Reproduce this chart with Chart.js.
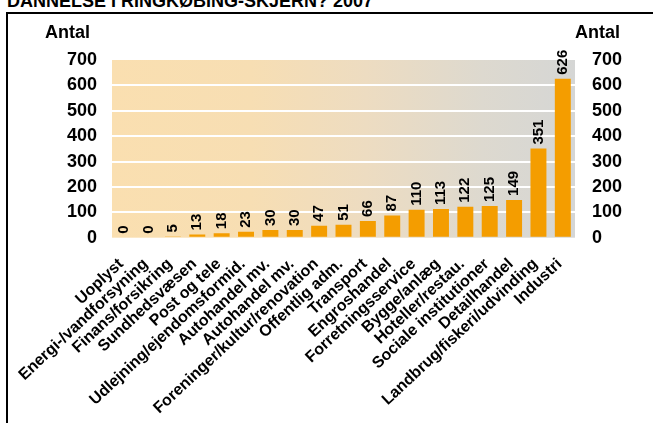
<!DOCTYPE html>
<html><head><meta charset="utf-8">
<script src="https://cdn.jsdelivr.net/npm/chart.js@4/dist/chart.umd.min.js"></script>
<style>
html,body{margin:0;padding:0;background:#fff;}
#wrap{position:relative;width:653px;height:423px;overflow:hidden;font-family:"Liberation Sans",Arial,sans-serif;}
#frame{position:absolute;left:6px;top:12px;width:800px;height:600px;border:2px solid #000;box-sizing:border-box;}
#title{position:absolute;left:7px;top:-8px;font-weight:bold;font-size:18px;line-height:18px;white-space:nowrap;color:#000;}
.ylab{position:absolute;top:22px;font-weight:bold;font-size:18px;line-height:20px;color:#000;}
canvas{position:absolute;left:0;top:0;}
</style></head><body>
<div id="wrap">
<div id="frame"></div>
<div id="title">DANNELSE I RINGKØBING-SKJERN? 2007</div>
<canvas id="c" width="653" height="423"></canvas>
<div class="ylab" style="left:45px">Antal</div>
<div class="ylab" style="left:575px">Antal</div>
</div>
<script>
const categories = ["Uoplyst","Energi-/vandforsyning","Finans/forsikring","Sundhedsvæsen","Post og tele","Udlejning/ejendomsformid.","Autohandel mv.","Autohandel mv.","Foreninger/kultur/renovation","Offentlig adm.","Transport","Engroshandel","Forretningsservice","Bygge/anlæg","Hoteller/restau.","Sociale institutioner","Detailhandel","Landbrug/fiskeri/udvinding","Industri"];
const values = [0,0,5,13,18,23,30,30,47,51,66,87,110,113,122,125,149,351,626];
const yTicks = [0,100,200,300,400,500,600,700];

const bgPlugin = {
  id:'bg',
  beforeDraw(chart){
    const {ctx, chartArea:a} = chart;
    const g = ctx.createLinearGradient(a.left,0,a.right,0);
    g.addColorStop(0,'#FADFB0');
    g.addColorStop(0.3,'#F7DEB3');
    g.addColorStop(0.55,'#EDDCC1');
    g.addColorStop(0.8,'#DDD9CF');
    g.addColorStop(1,'#D5D6D5');
    ctx.save();
    ctx.fillStyle = g;
    ctx.fillRect(a.left,a.top,a.right-a.left,a.bottom-a.top);
    ctx.restore();
  }
};
const valPlugin = {
  id:'vals',
  afterDatasetsDraw(chart){
    const {ctx} = chart;
    const meta = chart.getDatasetMeta(0);
    ctx.save();
    ctx.font = 'bold 15px "Liberation Sans", Arial, sans-serif';
    ctx.fillStyle = '#000';
    ctx.textAlign = 'left';
    ctx.textBaseline = 'middle';
    meta.data.forEach((el,i)=>{
      ctx.save();
      ctx.translate(el.x, el.y - 4);
      ctx.rotate(-Math.PI/2);
      ctx.fillText(String(values[i]),0,0);
      ctx.restore();
    });
    ctx.restore();
  }
};

new Chart(document.getElementById('c'),{
  type:'bar',
  data:{labels:categories,datasets:[{data:values,backgroundColor:'#F49D00',borderWidth:0,categoryPercentage:1,barPercentage:0.655,yAxisID:'y'}]},
  options:{
    responsive:false,animation:false,
    layout:{padding:{top:60,left:0,right:0,bottom:0}},
    plugins:{legend:{display:false},tooltip:{enabled:false},title:{display:false}},
    scales:{
      x:{
        grid:{display:false,drawTicks:false},border:{display:false},
        ticks:{autoSkip:false,minRotation:43,maxRotation:43,padding:17,labelOffset:-3,color:'#000',
          font:{family:'"Liberation Sans", Arial, sans-serif',size:16,weight:'bold'}},
        afterFit(s){s.height=423-237.7;}
      },
      y:{
        position:'left',min:0,max:700,
        afterBuildTicks(s){s.ticks=yTicks.map(v=>({value:v}));},
        grid:{drawTicks:false,lineWidth:2,color:(c)=>(c.tick&&(c.tick.value===0||c.tick.value===700))?'rgba(0,0,0,0)':'#FFFFFF'},
        border:{display:false},
        ticks:{padding:15,color:'#000',font:{family:'"Liberation Sans", Arial, sans-serif',size:18,weight:'bold'}},
        afterFit(s){s.width=112;}
      },
      y2:{
        position:'right',min:0,max:700,
        afterBuildTicks(s){s.ticks=yTicks.map(v=>({value:v}));},
        grid:{display:false,drawTicks:false},border:{display:false},
        ticks:{padding:17,color:'#000',font:{family:'"Liberation Sans", Arial, sans-serif',size:18,weight:'bold'}},
        afterFit(s){s.width=653-575;}
      }
    }
  },
  plugins:[bgPlugin,valPlugin]
});
</script>
</body></html>
